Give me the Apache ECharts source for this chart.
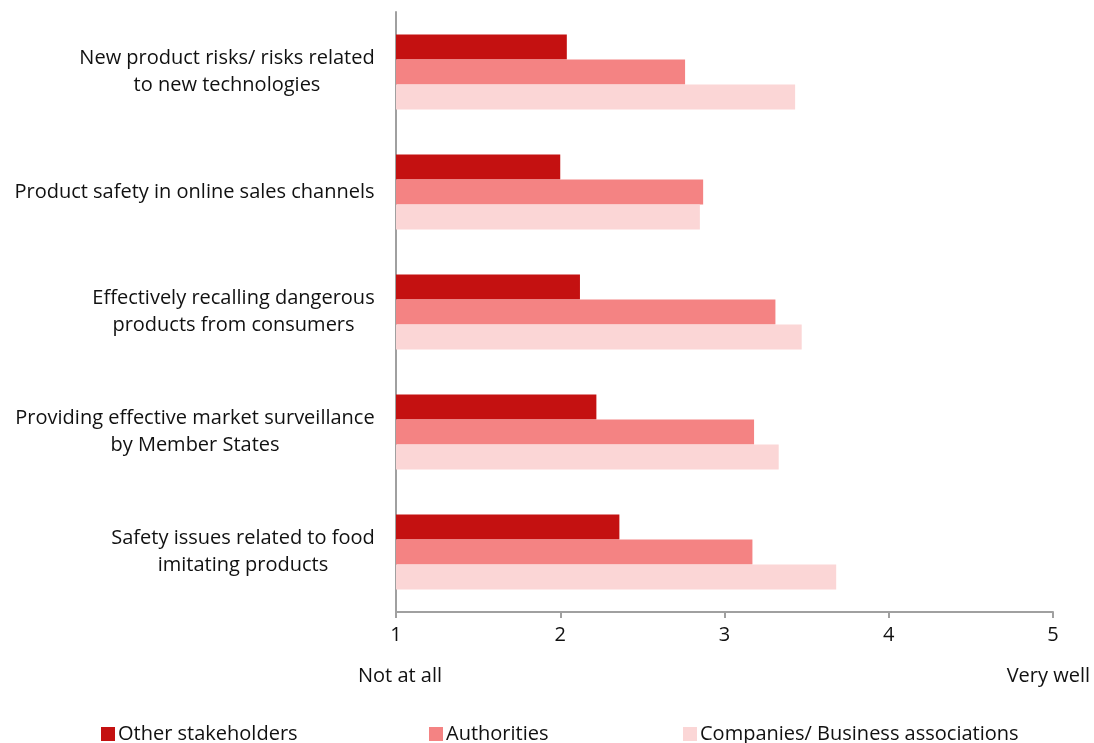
<!DOCTYPE html>
<html><head><meta charset="utf-8">
<script src="https://cdn.jsdelivr.net/npm/echarts@6/dist/echarts.min.js"></script>
<style>html,body{margin:0;padding:0;background:#fff}#c{width:1094px;height:743px}</style>
</head><body><div id="c"></div>
<script>
const categories = [
  "New product risks/ risks related\nto new technologies",
  "Product safety in online sales channels",
  "Effectively recalling dangerous\nproducts from consumers",
  "Providing effective market surveillance\nby Member States",
  "Safety issues related to food\nimitating products"
];
const seriesNames = ["Other stakeholders", "Authorities", "Companies/ Business associations"];
const otherStakeholders = [2.04, 2.00, 2.12, 2.22, 2.36];
const authorities = [2.76, 2.87, 3.31, 3.18, 3.17];
const companies = [3.43, 2.85, 3.47, 3.33, 3.68];
const xTicks = [1, 2, 3, 4, 5];
const colors = ["#C41111", "#F48383", "#FBD6D6"];
const FONT = "Open Sans";
const FS = 20;

// measure label blocks so lines can be centred within a right-aligned block
const ctx = document.createElement('canvas').getContext('2d');
ctx.font = FS + 'px "' + FONT + '"';
const rich = {};
categories.forEach((c, i) => {
  const w = Math.max(...c.split('\n').map(l => ctx.measureText(l).width));
  rich['c' + i] = {width: Math.ceil(w), align: 'center', fontSize: FS, lineHeight: 27, color: '#111', fontFamily: FONT};
});

const chart = echarts.init(document.getElementById('c'), null, {renderer: 'canvas'});
const values = [otherStakeholders, authorities, companies];
chart.setOption({
  animation: false,
  textStyle: {fontFamily: FONT},
  grid: {left: 396, right: 41, top: 12, bottom: 131, containLabel: false},
  xAxis: {
    type: 'value', min: xTicks[0], max: xTicks[xTicks.length - 1], interval: 1,
    axisLine: {show: true, lineStyle: {color: '#A0A0A0', width: 2}},
    axisTick: {show: true, length: 6, lineStyle: {color: '#A0A0A0', width: 2}},
    splitLine: {show: false},
    axisLabel: {color: '#111', fontSize: FS, fontFamily: FONT, margin: 13}
  },
  yAxis: {
    type: 'category', data: categories, inverse: true,
    axisLine: {show: true, lineStyle: {color: '#A0A0A0', width: 2}},
    axisTick: {show: false},
    axisLabel: {
      margin: 21, align: 'right', lineHeight: 27,
      formatter: (val, idx) => val.split('\n').map(l => '{c' + idx + '|' + l + '}').join('\n'),
      rich: rich
    }
  },
  legend: [0, 1, 2].map((i) => ({
    data: [seriesNames[i]],
    left: [96, 424, 678][i], top: 719,
    itemWidth: 14, itemHeight: 14, itemGap: 4,
    icon: 'rect',
    textStyle: {fontSize: FS, color: '#111', fontFamily: FONT, padding: [0, 0, 0, -2]}
  })),
  series: values.map((v, i) => ({
    name: seriesNames[i], type: 'bar', data: v,
    barGap: '0%', barCategoryGap: '37.5%',
    itemStyle: {color: colors[i]}
  })),
  graphic: [
    {type: 'text', left: 358, top: 666, style: {text: 'Not at all', font: FS + 'px "' + FONT + '"', fill: '#111'}},
    {type: 'text', right: 4, top: 666, style: {text: 'Very well', font: FS + 'px "' + FONT + '"', fill: '#111'}}
  ]
});
</script></body></html>
